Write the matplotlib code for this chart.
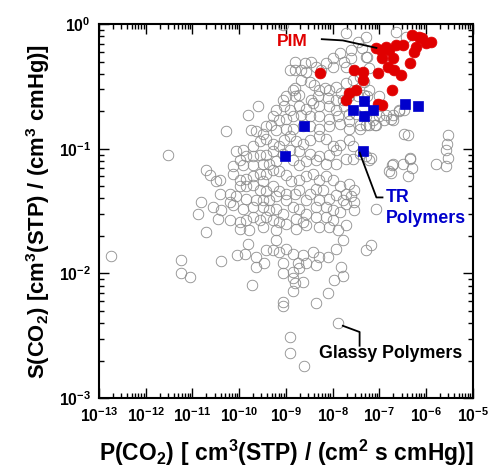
import numpy as np
import matplotlib
matplotlib.use("Agg")
import matplotlib.pyplot as plt
from matplotlib.ticker import FixedLocator, FixedFormatter, LogLocator, NullFormatter

plt.rcParams['font.family'] = ['Liberation Sans', 'DejaVu Sans']
plt.rcParams['font.weight'] = 'bold'
plt.rcParams['mathtext.fontset'] = 'custom'
plt.rcParams['mathtext.rm'] = 'Liberation Sans:bold'
plt.rcParams['mathtext.bf'] = 'Liberation Sans:bold'
plt.rcParams['mathtext.it'] = 'Liberation Sans:bold:italic'

# data, as log10 values
# glassy polymers: log10 P(CO2), log10 S(CO2)
glassy_logP = [
    -9.06, -12.74, -11.52, -11.24, -11.24, -11.06, -10.38, -10.70, -10.28, -7.89,
    -8.92, -8.92, -8.62, -8.35, -9.06, -9.06, -9.73, -8.10, -7.82, -7.77,
    -7.96, -7.28, -7.17, -7.07, -6.46, -6.35, -6.39, -6.30, -6.78, -6.71,
    -5.78, -5.57, -5.53, -5.55, -5.57, -5.53, -6.64, -6.43,
    -6.38, -6.50, -6.72, -6.74, -6.35, -7.17, -6.71, -6.89, -7.10, -7.21, -6.57,
    -7.36, -7.27, -7.32, -7.00, -7.26,
    # band 1
    -7.60, -7.46, -7.85, -8.00, -8.14, -8.00, -8.46, -8.60, -8.81, -8.92,
    -8.81, -8.67, -8.57, -8.35, -8.24, -7.71, -7.28, -7.28, -7.71, -7.21,
    -7.60, -7.75,
    # band 2
    -8.67, -8.49, -8.39, -8.28, -8.17, -8.07, -7.92, -7.82, -7.71, -7.57,
    -7.42, -8.85, -8.99, -9.06, -8.81, -8.71, -8.46, -8.32, -8.10, -7.92,
    -7.78, -7.64, -7.46, -7.32, -7.21, -8.81,
    # band 3
    -9.60, -9.21, -9.03, -8.92, -8.71, -8.57, -8.42, -8.28, -8.07, -7.92,
    -7.75, -7.64, -7.50, -7.28, -7.14, -7.00, -6.85, -6.75, -6.57, -9.81,
    -9.28, -9.14, -8.99, -8.85, -8.67, -8.49, -8.28, -8.07, -7.89, -7.64,
    -7.42, -7.28, -7.07, -9.42, -9.31, -9.21, -8.99, -8.85, -8.64, -8.49,
    -8.28, -8.07, -7.85, -7.64, -7.42, -9.74, -9.63, -9.49, -6.71, -6.46,
    # band 4
    -10.06, -9.92, -9.71, -9.56, -9.42, -9.28, -9.14, -9.03, -8.92, -8.78,
    -8.64, -8.49, -8.28, -8.14, -8.00, -7.85, -7.64, -7.57, -7.42, -7.28,
    -7.21, -9.99, -9.85, -9.71, -9.56, -9.42, -9.28, -9.06, -8.92, -8.71,
    -8.49, -8.28, -8.07, -7.92, -7.71, -7.57, -10.13, -9.92, -9.71, -9.49,
    -9.35, -9.21, -8.85, -8.71, -8.57, -8.35, -8.14, -7.92,
    # band 5
    -10.70, -10.63, -10.49, -10.42, -10.13, -9.99, -9.85, -9.71, -9.56, -9.49,
    -9.42, -9.28, -9.14, -8.99, -8.89, -8.71, -8.57, -8.42, -8.28, -8.14,
    -8.00, -7.85, -7.64, -7.53, -9.99, -9.85, -9.71, -9.56, -9.42, -9.28,
    -9.14, -8.99, -8.81, -8.71, -8.49, -8.35, -8.21, -8.07, -7.92, -7.71,
    -10.42, -10.20, -10.06, -9.85, -9.63, -9.49, -9.35, -9.21, -8.99, -8.57,
    -8.28, -7.78, -7.60, -7.53,
    # band 6
    -10.81, -10.88, -10.56, -10.38, -10.20, -10.13, -9.92, -9.71, -9.49, -9.35,
    -9.21, -9.06, -8.85, -8.71, -8.57, -8.35, -8.14, -8.00, -7.85, -7.71,
    -7.53, -10.20, -9.99, -9.85, -9.71, -9.56, -9.42, -9.28, -9.14, -8.99,
    -8.78, -8.64, -8.35, -8.14, -8.00, -7.89, -7.71, -10.45, -9.99, -9.78,
    -9.49, -9.21, -8.78, -8.57, -8.28, -8.07,
    # band 7
    -9.81, -9.21, -8.99, -8.85, -8.64, -8.42, -8.28, -8.10, -7.92, -7.78,
    -9.42, -9.28, -9.14, -9.63, -9.46, -9.63, -9.06, -8.74, -8.57, -8.35,
    -8.85, -8.71, -10.04, -9.88,
    # band 8
    -9.06, -8.85, -8.81, -8.64, -8.85,
]
glassy_logS = [
    -0.01, -1.86, -1.05, -1.89, -2.00, -2.03, -1.90, -1.67, -0.86, -2.40,
    -2.51, -2.64, -2.74, -2.24, -2.23, -2.26, -2.09, -2.16, -1.95, -2.02,
    -2.05, -1.81, -1.77, -1.48, -0.88, -1.08, -1.22, -1.15, -1.18, -1.12,
    -1.12, -1.14, -0.89, -0.96, -1.01, -1.07, -0.06, -0.10,
    -0.89, -1.12, -1.13, -1.19, -1.07, -1.07, -0.73, -0.77, -0.81, -0.81, -0.69,
    -0.19, -0.26, -0.46, -0.58, -0.58,
    # band 1
    -0.21, -0.14, -0.23, -0.27, -0.31, -0.34, -0.30, -0.31, -0.30, -0.37,
    -0.37, -0.37, -0.38, -0.34, -0.37, -0.07, -0.10, -0.26, -0.34, -0.35,
    -0.27, -0.30,
    # band 2
    -0.45, -0.46, -0.49, -0.53, -0.51, -0.53, -0.50, -0.55, -0.47, -0.45,
    -0.42, -0.53, -0.58, -0.61, -0.58, -0.57, -0.61, -0.58, -0.59, -0.61,
    -0.61, -0.58, -0.58, -0.57, -0.53, -0.51,
    # band 3
    -0.66, -0.69, -0.66, -0.69, -0.66, -0.68, -0.63, -0.66, -0.66, -0.69,
    -0.66, -0.72, -0.72, -0.74, -0.77, -0.74, -0.73, -0.76, -0.70, -0.73,
    -0.74, -0.77, -0.76, -0.74, -0.73, -0.74, -0.74, -0.76, -0.74, -0.78,
    -0.81, -0.81, -0.81, -0.82, -0.81, -0.85, -0.84, -0.84, -0.82, -0.82,
    -0.84, -0.82, -0.80, -0.84, -0.84, -0.85, -0.86, -0.88, -0.77, -0.69,
    # band 4
    -1.02, -1.01, -0.98, -0.94, -0.92, -0.96, -0.98, -0.93, -0.90, -0.94,
    -0.96, -0.93, -0.90, -0.92, -0.98, -0.97, -0.93, -0.98, -1.04, -1.06,
    -1.09, -1.09, -1.06, -1.06, -1.05, -1.05, -1.02, -1.04, -1.01, -1.02,
    -1.04, -1.06, -1.05, -1.01, -1.08, -1.08, -1.14, -1.13, -1.13, -1.12,
    -1.12, -1.10, -1.09, -1.13, -1.10, -1.09, -1.12, -1.12,
    # band 5
    -1.17, -1.21, -1.26, -1.25, -1.20, -1.25, -1.24, -1.22, -1.20, -1.26,
    -1.20, -1.17, -1.18, -1.21, -1.26, -1.25, -1.22, -1.20, -1.25, -1.22,
    -1.25, -1.30, -1.28, -1.33, -1.30, -1.30, -1.29, -1.33, -1.34, -1.30,
    -1.34, -1.36, -1.36, -1.33, -1.36, -1.32, -1.33, -1.40, -1.37, -1.36,
    -1.36, -1.36, -1.38, -1.40, -1.41, -1.41, -1.41, -1.38, -1.41, -1.41,
    -1.41, -1.41, -1.38, -1.43,
    # band 6
    -1.43, -1.52, -1.47, -1.49, -1.43, -1.45, -1.48, -1.47, -1.47, -1.49,
    -1.48, -1.52, -1.47, -1.48, -1.52, -1.47, -1.47, -1.49, -1.51, -1.44,
    -1.49, -1.57, -1.59, -1.57, -1.55, -1.57, -1.55, -1.57, -1.59, -1.60,
    -1.56, -1.59, -1.55, -1.55, -1.57, -1.65, -1.61, -1.56, -1.64, -1.65,
    -1.63, -1.65, -1.64, -1.61, -1.63, -1.63,
    # band 7
    -1.76, -1.73, -1.80, -1.84, -1.85, -1.83, -1.87, -1.87, -1.80, -1.73,
    -1.81, -1.81, -1.83, -1.87, -1.92, -1.95, -1.92, -1.92, -1.92, -1.93,
    -1.99, -1.96, -1.85, -1.84,
    # band 8
    -2.00, -2.04, -2.08, -2.07, -2.14,
]

# PIMs
pim_logP = [-8.26, -7.53, -7.35, -7.34, -7.03, -7.49, -7.64, -7.71, -7.03, -6.93,
            -7.07, -6.96, -6.85, -6.78, -6.64, -6.50, -6.30, -6.14, -6.00, -5.89,
            -6.21, -6.25, -6.93, -6.71, -6.82, -6.68, -6.53, -6.35, -6.72, -6.08]
pim_logS = [-0.39, -0.37, -0.38, -0.45, -0.39, -0.53, -0.55, -0.61, -0.64, -0.65,
            -0.19, -0.21, -0.18, -0.21, -0.17, -0.17, -0.09, -0.10, -0.15, -0.14,
            -0.18, -0.22, -0.27, -0.27, -0.34, -0.37, -0.41, -0.31, -0.53, -0.11]

# TR polymers
tr_logP = [-9.01, -8.62, -7.35, -7.57, -7.32, -7.32, -7.14, -6.44, -6.16]
tr_logS = [-1.06, -0.82, -1.02, -0.69, -0.62, -0.74, -0.69, -0.64, -0.66]

x_ticks = [1e-13, 1e-12, 1e-11, 1e-10, 1e-9, 1e-8, 1e-7, 1e-6, 1e-5]
x_labels = [r'$\mathbf{10^{-13}}$', r'$\mathbf{10^{-12}}$', r'$\mathbf{10^{-11}}$',
            r'$\mathbf{10^{-10}}$', r'$\mathbf{10^{-9}}$', r'$\mathbf{10^{-8}}$',
            r'$\mathbf{10^{-7}}$', r'$\mathbf{10^{-6}}$', r'$\mathbf{10^{-5}}$']
y_ticks = [1e-3, 1e-2, 1e-1, 1e0]
y_labels = [r'$\mathbf{10^{-3}}$', r'$\mathbf{10^{-2}}$', r'$\mathbf{10^{-1}}$',
            r'$\mathbf{10^{0}}$']

fig = plt.figure(figsize=(4.89, 4.75), dpi=100)
ax = fig.add_axes([0.2025, 0.162, 0.764, 0.787])

ax.plot(10 ** np.array(glassy_logP), 10 ** np.array(glassy_logS), 'o', ls='none',
        ms=7.6, mfc='none', mec='#8c8c8c', mew=0.6)
ax.plot(10 ** np.array(pim_logP), 10 ** np.array(pim_logS), 'o', ls='none',
        ms=7.8, mfc='#e00000', mec='#e00000', mew=0.5)
ax.plot(10 ** np.array(tr_logP), 10 ** np.array(tr_logS), 's', ls='none',
        ms=7.0, mfc='#0000cc', mec='#0000cc', mew=0.5)

ax.set_xscale('log')
ax.set_yscale('log')
ax.set_xlim(1e-13, 1e-5)
ax.set_ylim(1e-3, 1e0)

ax.xaxis.set_major_locator(FixedLocator(x_ticks))
ax.xaxis.set_major_formatter(FixedFormatter(x_labels))
ax.yaxis.set_major_locator(FixedLocator(y_ticks))
ax.yaxis.set_major_formatter(FixedFormatter(y_labels))
ax.xaxis.set_minor_locator(LogLocator(base=10, subs=np.arange(2, 10), numticks=20))
ax.yaxis.set_minor_locator(LogLocator(base=10, subs=np.arange(2, 10), numticks=20))
ax.xaxis.set_minor_formatter(NullFormatter())
ax.yaxis.set_minor_formatter(NullFormatter())
ax.tick_params(which='both', direction='in', top=True, right=True, width=1.0,
               labelsize=11.3)
ax.tick_params(which='major', length=7, pad=6)
ax.tick_params(which='minor', length=3.5)
for sp in ax.spines.values():
    sp.set_linewidth(1.5)

ax.set_xlabel(r'$\mathbf{P(CO_2)\ [\ cm^3(STP)\ /\ (cm^2\ s\ cmHg)]}$',
              fontsize=16.5, labelpad=9)
ax.set_ylabel(r'$\mathbf{S(CO_2)\ [cm^3(STP)\ /\ (cm^3\ cmHg)]}$',
              fontsize=15.8, labelpad=5)

# annotations
ax.text(10 ** -8.86, 10 ** -0.14, 'PIM', color='#e00000', fontsize=12.5,
        fontweight='bold', ha='center', va='center')
ax.plot(10 ** np.array([-8.23, -7.78, -7.06]), 10 ** np.array([-0.12, -0.13, -0.19]),
        color='black', lw=1.3)

ax.text(10 ** -6.85, 10 ** -1.39, 'TR', color='#0000cc', fontsize=12.8,
        fontweight='bold', ha='left', va='center')
ax.text(10 ** -6.85, 10 ** -1.56, 'Polymers', color='#0000cc', fontsize=12.8,
        fontweight='bold', ha='left', va='center')
ax.plot(10 ** np.array([-7.42, -7.06, -6.93]), 10 ** np.array([-1.03, -1.39, -1.39]),
        color='black', lw=1.3)

ax.text(10 ** -8.28, 10 ** -2.64, 'Glassy Polymers', color='black', fontsize=12.8,
        fontweight='bold', ha='left', va='center')
ax.plot(10 ** np.array([-7.78, -7.42, -7.42]), 10 ** np.array([-2.42, -2.47, -2.58]),
        color='black', lw=1.3)

fig.savefig('out.png', dpi=100)
